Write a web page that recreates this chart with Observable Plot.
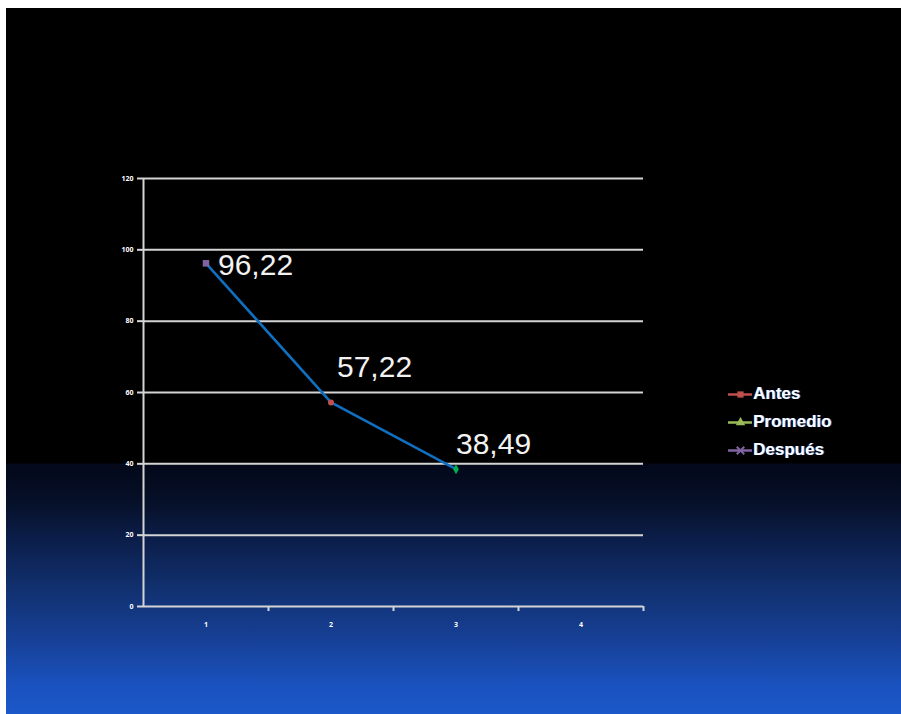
<!DOCTYPE html>
<html>
<head>
<meta charset="utf-8">
<script src="https://cdn.jsdelivr.net/npm/d3@7"></script>
<script src="https://cdn.jsdelivr.net/npm/@observablehq/plot@0.6"></script>
<style>
  html, body { margin: 0; padding: 0; background: #fff; }
  #wrap {
    position: absolute; left: 6px; top: 8px; width: 895px; height: 706px;
    background: linear-gradient(to bottom,
      #000 0%, #000 64.4%, #03081a 64.6%, #061028 70%, #0b1d48 75%,
      #11306e 82%, #163f94 89%, #1a52bf 96%, #1c58c9 100%);
    overflow: hidden;
  }
  #legend {
    position: absolute; left: 722px; top: 372px;
    font-family: "Liberation Sans", Arial, sans-serif; font-weight: bold;
    font-size: 17px; color: #fff; text-shadow: 1px 0 0 #3a6cc8;
  }
  #legend .row { display: flex; align-items: center; height: 28px; }
  #legend svg { margin-right: 1px; }
  #chart text.ticklbl { letter-spacing: 2px; }
</style>
</head>
<body>
<div id="wrap"><div id="chart"></div><div id="legend"></div></div>
<script>
const categories = [1, 2, 3, 4];
const xValues = [1, 2, 3];
const values = [96.22, 57.22, 38.49];
const labels = ["96,22", "57,22", "38,49"];
const pointColors = ["#8064a2", "#c0504d", "#00b050"];
const pointSymbols = ["square", "circle", "diamond"];
const yTicks = [0, 20, 40, 60, 80, 100, 120];
const xBoundaries = [1.5, 2.5, 3.5, 4.5];
const seriesNames = ["Antes", "Promedio", "Después"];
const seriesColors = ["#c0504d", "#9bbb59", "#8064a2"];

const data = xValues.map((x, i) => ({x, y: values[i], label: labels[i], color: pointColors[i], symbol: pointSymbols[i]}));

const labelOffsets = [[12, 2], [6, -35], [0, -25]];

const gridColor = "#d4d4d4";
const chart = Plot.plot({
  width: 895, height: 706,
  marginLeft: 137, marginRight: 258, marginTop: 170, marginBottom: 108,
  style: {background: "transparent", color: "#fff"},
  x: {domain: [0.5, 4.5], axis: null},
  y: {domain: [0, 120], axis: null},
  marks: [
    Plot.ruleY(yTicks, {stroke: gridColor, strokeWidth: 2}),
    Plot.ruleX([0.5], {stroke: gridColor, strokeWidth: 2}),
    Plot.axisY(yTicks, {label: null, tickSize: 6, tickPadding: 4, stroke: gridColor, strokeWidth: 2, fill: "#fff", fontSize: 7, fontWeight: "bold", tickFormat: d => String(d)}),
    Plot.axisX(categories, {label: null, tickSize: 0, tickPadding: 16, fill: "#fff", fontSize: 7, fontWeight: "bold", tickFormat: d => String(d)}),
    Plot.ruleX(xBoundaries, {y1: 0, y2: -1.4, stroke: gridColor, strokeWidth: 2}),
    Plot.line(data, {x: "x", y: "y", stroke: "#0f6fc0", strokeWidth: 2.6}),
    Plot.dot(data, {x: "x", y: "y", fill: "color", symbol: "symbol", r: d => d.symbol === "square" ? 4.5 : 3, stroke: "none"}),
    ...data.map((d, i) => Plot.text([d], {x: "x", y: "y", text: "label", textAnchor: "start",
      dx: labelOffsets[i][0], dy: labelOffsets[i][1], fill: "#f2f2f2", fontSize: 30,
      fontFamily: "Liberation Sans, Arial, sans-serif"}))
  ]
});
document.getElementById("chart").appendChild(chart);

const legend = document.getElementById("legend");
const symbolsLegend = ["square", "triangle", "times"];
seriesNames.forEach((name, i) => {
  const row = document.createElement("div");
  row.className = "row";
  const s = Plot.plot({
    width: 24, height: 14, margin: 0,
    x: {domain: [0, 1], axis: null}, y: {domain: [0, 1], axis: null},
    style: {background: "transparent"},
    marks: [
      Plot.ruleY([0.5], {stroke: seriesColors[i], strokeWidth: 2.5}),
      Plot.dot([[0.5, 0.5]], {symbol: symbolsLegend[i], fill: seriesColors[i], stroke: symbolsLegend[i] === "times" ? seriesColors[i] : "none", strokeWidth: 2, r: 3.5})
    ]
  });
  row.appendChild(s);
  const t = document.createElement("span");
  t.textContent = name;
  row.appendChild(t);
  legend.appendChild(row);
});
</script>
</body>
</html>
